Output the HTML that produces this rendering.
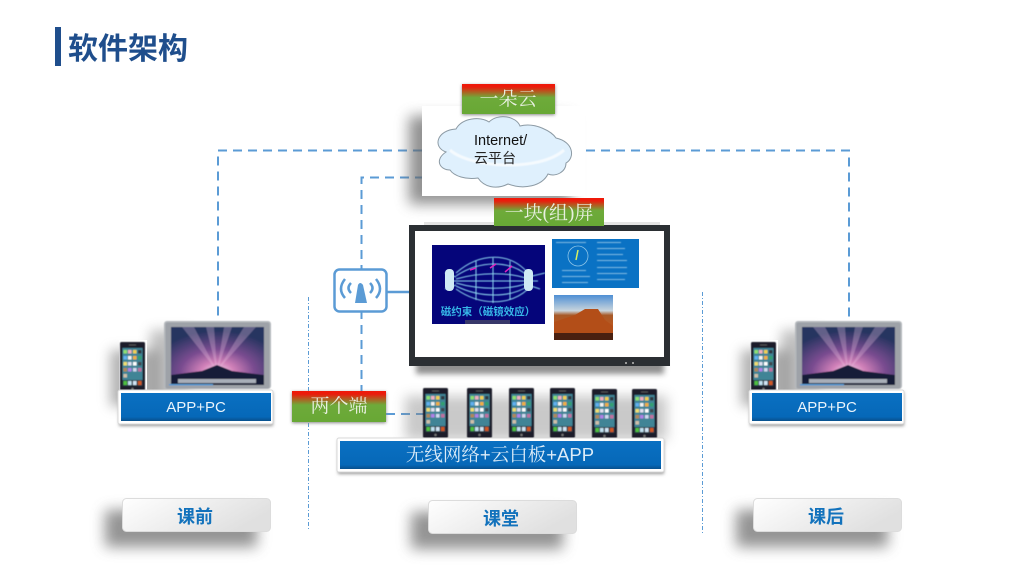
<!DOCTYPE html>
<html><head><meta charset="utf-8"><style>
html,body{margin:0;padding:0;background:#fff;width:1024px;height:576px;overflow:hidden}
svg{display:block}
text{font-family:"Liberation Sans","Noto Sans CJK SC",sans-serif}
.serif{font-family:"Liberation Serif","Noto Serif CJK SC",serif}
.sans{font-family:"Liberation Sans",sans-serif}
</style></head><body>
<svg width="1024" height="576" viewBox="0 0 1024 576" xmlns="http://www.w3.org/2000/svg">
<defs>
<filter id="b6" x="-30%" y="-60%" width="160%" height="220%"><feGaussianBlur stdDeviation="6"/></filter>
<filter id="b7" x="-30%" y="-80%" width="160%" height="260%"><feGaussianBlur stdDeviation="7"/></filter>
<filter id="b3" x="-30%" y="-60%" width="160%" height="220%"><feGaussianBlur stdDeviation="3"/></filter>
<filter id="b2" x="-30%" y="-60%" width="160%" height="220%"><feGaussianBlur stdDeviation="1.500"/></filter>
<filter id="b1" x="-10%" y="-10%" width="120%" height="120%"><feGaussianBlur stdDeviation="0.4"/></filter>
<linearGradient id="tag" x1="0" y1="0" x2="0" y2="1"><stop offset="0" stop-color="#f01808"/><stop offset=".1" stop-color="#ea1c0c"/><stop offset=".45" stop-color="#6eaa3a"/><stop offset="1" stop-color="#68a835"/></linearGradient>
<linearGradient id="btn" x1="0" y1="0" x2="1" y2="0.4"><stop offset="0" stop-color="#ffffff"/><stop offset="1" stop-color="#e0e0e0"/></linearGradient>
<linearGradient id="blue" x1="0" y1="0" x2="0" y2="1"><stop offset="0" stop-color="#0a70c2"/><stop offset=".85" stop-color="#0668b8"/><stop offset="1" stop-color="#08508c"/></linearGradient>
<radialGradient id="wall" cx=".5" cy=".78" r=".72"><stop offset="0" stop-color="#f6dcf0"/><stop offset=".25" stop-color="#d080b8"/><stop offset=".55" stop-color="#7a4c90"/><stop offset="1" stop-color="#263460"/></radialGradient>
<linearGradient id="desert" x1="0" y1="0" x2="0" y2="1"><stop offset="0" stop-color="#4f8fd4"/><stop offset=".35" stop-color="#c8d4dc"/><stop offset=".45" stop-color="#a85a28"/><stop offset=".75" stop-color="#c0561c"/><stop offset="1" stop-color="#3c1c10"/></linearGradient>
<g id="phone" filter="url(#b1)">
<rect x="0" y="0" width="25" height="50" rx="1.5" fill="#1a1e2c"/>
<rect x="2.500" y="6" width="20" height="38" fill="#3f8496"/>
<g>
<rect x="3.500" y="8" width="3.500" height="3.500" fill="#8fe070"/><rect x="8" y="8" width="3.500" height="3.500" fill="#f0b0c0"/><rect x="13" y="8" width="3.500" height="3.500" fill="#f0d050"/><rect x="18" y="8" width="3.500" height="3.500" fill="#303840"/>
<rect x="3.500" y="14" width="3.500" height="3.500" fill="#60b0f0"/><rect x="8" y="14" width="3.500" height="3.500" fill="#f4f4f4"/><rect x="13" y="14" width="3.500" height="3.500" fill="#f0b040"/><rect x="18" y="14" width="3.500" height="3.500" fill="#30a070"/>
<rect x="3.500" y="20" width="3.500" height="3.500" fill="#f0e070"/><rect x="8" y="20" width="3.500" height="3.500" fill="#e0e0f0"/><rect x="13" y="20" width="3.500" height="3.500" fill="#ffffff"/><rect x="18" y="20" width="3.500" height="3.500" fill="#404850"/>
<rect x="3.500" y="26" width="3.500" height="3.500" fill="#b08858"/><rect x="8" y="26" width="3.500" height="3.500" fill="#b080e8"/><rect x="13" y="26" width="3.500" height="3.500" fill="#d0d8f0"/><rect x="18" y="26" width="3.500" height="3.500" fill="#c070a0"/>
<rect x="3.500" y="32" width="3.500" height="3.500" fill="#d0c0a8"/>
</g>
<rect x="2.500" y="38" width="20" height="6" fill="#2a3a44"/>
<rect x="3.500" y="39" width="3.500" height="4" fill="#50c040"/><rect x="8" y="39" width="3.500" height="4" fill="#c0e0f0"/><rect x="13" y="39" width="3.500" height="4" fill="#d0e4f4"/><rect x="18" y="39" width="3.500" height="4" fill="#d05820"/>
<circle cx="12.500" cy="47" r="1.200" fill="#777"/>
<rect x="9" y="2.500" width="7" height="1" fill="#555"/>
</g>
<g id="laptop" filter="url(#b1)">
<rect x="0" y="0" width="107" height="68" rx="3" fill="#b4b8bc"/>
<rect x="1.500" y="1.500" width="104" height="66" rx="2" fill="#9ea2a8"/>
<rect x="7" y="6" width="93" height="58" fill="url(#wall)"/>
<path d="M53 50 L18 6 H30 L53 50 L42 6 H50 L53 50 L60 6 H68 L53 50 L80 6 H92 Z" fill="#f0c8e4" opacity=".3"/>
<path d="M7 54 L38 50 L53 44 L68 50 L100 54 V64 H7 Z" fill="#161a38"/>
<rect x="14" y="58" width="78" height="4" fill="#a8aeb8"/>
<rect x="5" y="63" width="44" height="1.500" fill="#5b9bd5"/>
</g>
</defs>

<!-- title -->
<rect x="55" y="27" width="6" height="39" fill="#1f4e8c"/>
<text x="68" y="59" font-size="30" font-weight="700" fill="#1f4e8c">软件架构</text>

<!-- dashes -->
<g fill="none" stroke="#5b9bd5" stroke-width="2" stroke-dasharray="9 6">
<path d="M422 150.500H218V320"/>
<path d="M424 177.500H361.500V392"/>
<path d="M586 150.500H849V320"/>
<path d="M386 414H424"/>
</g>
<g stroke="#5b9bd5" stroke-width="1" stroke-dasharray="4 2 1 2" fill="none">
<path d="M308.500 297V531"/>
<path d="M702.500 292V534"/>
</g>

<!-- cloud panel -->
<rect x="409" y="116" width="162" height="88" fill="#666" opacity=".72" filter="url(#b7)"/>
<rect x="422" y="106" width="163" height="90" fill="#fff"/>
<path d="M446 152C432 147 437 130 456 129C462 118 480 116 489 122C498 113 516 116 520 126C536 122 552 132 556 138C574 142 575 158 566 163C566 172 556 177 548 174C542 186 524 190 508 184C496 190 484 187 478 178C466 180 454 176 450 170C440 170 434 160 446 152Z" fill="#dff0fd" stroke="#8c9aa4" stroke-width="1"/>
<path d="M450 150C470 168 540 172 564 150" fill="none" stroke="#fff" stroke-width="3" opacity=".7" filter="url(#b1)"/>
<text x="474" y="145" font-size="14.500" fill="#111">Internet/</text>
<text x="474" y="163" font-size="14" fill="#222">云平台</text>

<!-- screen -->
<rect x="424" y="222" width="236" height="6" fill="#e4e4e4"/>
<rect x="416" y="356" width="248" height="18" fill="#555" opacity=".65" filter="url(#b3)"/>
<rect x="409" y="225" width="261" height="141" fill="#2b2f33"/>
<rect x="415" y="231" width="249" height="126" fill="#fff"/>
<circle cx="626" cy="363" r="1" fill="#bbb"/><circle cx="633" cy="363" r="1" fill="#bbb"/>
<rect x="432" y="245" width="113" height="79" fill="#05057a"/>
<g fill="none" stroke="#8fd8f0" stroke-width="1" filter="url(#b1)">
<path d="M445 273L456 277M445 289L456 285M545 273L528 277M540 289L528 285"/>
<path d="M456 273C480 252 510 252 528 273"/><path d="M456 276C480 260 510 260 528 276"/>
<path d="M456 279C480 272 510 272 528 279"/><path d="M448 281H538"/>
<path d="M456 283C480 290 510 290 528 283"/><path d="M456 286C480 298 510 298 528 286"/>
<path d="M456 289C480 306 510 306 528 289"/>
<path d="M476 261V300M493 258V303M510 261V300"/>
</g>
<rect x="445" y="269" width="9" height="22" rx="4" fill="#cfeaf5"/>
<rect x="524" y="269" width="9" height="22" rx="4" fill="#cfeaf5"/>
<text x="488" y="315" font-size="10.500" fill="#36b8e8" text-anchor="middle" font-weight="700">磁约束（磁镜效应）</text>
<rect x="465" y="320" width="45" height="4" fill="#38386a"/>
<path d="M470 270L476 268M490 268L496 264M505 272L512 266" stroke="#e020c0" stroke-width="1.500"/>
<rect x="552" y="239" width="87" height="49" fill="#0a72c4"/>
<g fill="#b8dcf0" opacity=".7" filter="url(#b1)">
<rect x="556" y="242" width="30" height="1"/><rect x="597" y="242" width="24" height="1"/>
<rect x="597" y="248" width="28" height="1"/><rect x="597" y="254" width="26" height="1"/><rect x="597" y="260" width="30" height="1"/>
<rect x="597" y="267" width="30" height="1"/><rect x="597" y="273" width="30" height="1"/><rect x="597" y="279" width="28" height="1"/>
<rect x="562" y="270" width="24" height="1"/><rect x="562" y="276" width="28" height="1"/><rect x="562" y="282" width="26" height="1"/>
</g>
<circle cx="578" cy="256" r="10" fill="none" stroke="#8cc4e8" stroke-width=".8"/>
<path d="M578 250L576 260" stroke="#d8f060" stroke-width="1.500"/>
<rect x="554" y="295" width="59" height="45" fill="url(#desert)"/>
<path d="M554 322L575 315L585 309H598L605 320L613 326V340H554Z" fill="#b34e18"/>
<path d="M554 333H613V340H554Z" fill="#4a2010"/>

<!-- wifi icon -->
<path d="M387 292H409" stroke="#5b9bd5" stroke-width="2.500"/>
<rect x="334.500" y="269.500" width="52" height="42" rx="5" fill="#fff" stroke="#5b9bd5" stroke-width="2.500"/>
<path d="M355 303L358 285Q360 281 363 285L367 303Z" fill="#5b9bd5"/>
<g fill="none" stroke="#5b9bd5" stroke-width="2.500">
<path d="M345 279Q337 289 345 298"/><path d="M351 283Q346 288 351 293"/>
<path d="M376 279Q384 289 376 298"/><path d="M370 283Q375 288 370 293"/>
</g>

<!-- tags -->
<rect x="462" y="85" width="93" height="30" fill="#888" filter="url(#b2)"/>
<rect x="462" y="84" width="93" height="30" fill="url(#tag)"/>
<text x="508" y="105" class="serif" font-size="19" fill="#e8f0e0" text-anchor="middle">一朵云</text>
<rect x="494" y="198" width="110" height="28" fill="url(#tag)"/>
<text x="549" y="219" class="serif" font-size="19" fill="#e8f0e0" text-anchor="middle">一块(组)屏</text>
<rect x="292" y="392" width="94" height="31" fill="#888" filter="url(#b2)"/>
<rect x="292" y="391" width="94" height="31" fill="url(#tag)"/>
<text x="339" y="412" class="serif" font-size="19" fill="#e8f0e0" text-anchor="middle">两个端</text>

<!-- shadows for devices -->
<rect x="110" y="350" width="50" height="56" fill="#777" opacity=".55" filter="url(#b6)"/>
<rect x="150" y="330" width="40" height="70" fill="#777" opacity=".45" filter="url(#b6)"/>
<rect x="741" y="350" width="50" height="56" fill="#777" opacity=".55" filter="url(#b6)"/>
<rect x="781" y="330" width="40" height="70" fill="#777" opacity=".45" filter="url(#b6)"/>
<rect x="405" y="396" width="262" height="44" fill="#888" opacity=".45" filter="url(#b6)"/>

<!-- left devices -->
<use href="#laptop" x="164" y="321"/>
<rect x="119" y="340" width="28" height="52" fill="#fff"/>
<use href="#phone" x="120" y="342"/>
<!-- right devices -->
<use href="#laptop" x="795" y="321"/>
<rect x="750" y="340" width="28" height="52" fill="#fff"/>
<use href="#phone" x="751" y="342"/>
<!-- phones -->
<use href="#phone" x="423" y="388"/>
<use href="#phone" x="467" y="388"/>
<use href="#phone" x="509" y="388"/>
<use href="#phone" x="550" y="388"/>
<use href="#phone" x="592" y="389"/>
<use href="#phone" x="632" y="389"/>

<!-- blue boxes -->
<rect x="119" y="392" width="154" height="34" fill="#999" filter="url(#b2)"/>
<rect x="118" y="390" width="155" height="34" rx="2" fill="#fff" stroke="#d8d8d8"/>
<rect x="121" y="393" width="150" height="28" fill="url(#blue)"/>
<text x="196" y="412" font-size="15" fill="#eaf4fc" text-anchor="middle">APP+PC</text>
<rect x="750" y="392" width="154" height="34" fill="#999" filter="url(#b2)"/>
<rect x="749" y="390" width="155" height="34" rx="2" fill="#fff" stroke="#d8d8d8"/>
<rect x="752" y="393" width="150" height="28" fill="url(#blue)"/>
<text x="827" y="412" font-size="15" fill="#eaf4fc" text-anchor="middle">APP+PC</text>
<rect x="338" y="440" width="326" height="34" fill="#999" filter="url(#b2)"/>
<rect x="337" y="438" width="327" height="34" rx="2" fill="#fff" stroke="#d8d8d8"/>
<rect x="340" y="441" width="321" height="28" fill="url(#blue)"/>
<text x="500" y="461" class="serif" font-size="18.500" fill="#dcecf8" text-anchor="middle">无线网络<tspan class="sans">+</tspan>云白板<tspan class="sans">+APP</tspan></text>

<!-- buttons -->
<rect x="105" y="510" width="152" height="37" fill="#666" opacity=".7" filter="url(#b7)"/>
<rect x="122.500" y="498.500" width="148" height="33" rx="4" fill="url(#btn)" stroke="#dcdcdc"/>
<text x="195" y="523" font-size="18" font-weight="700" fill="#1272bc" text-anchor="middle">课前</text>
<rect x="411" y="512" width="152" height="37" fill="#666" opacity=".7" filter="url(#b7)"/>
<rect x="428.500" y="500.500" width="148" height="33" rx="4" fill="url(#btn)" stroke="#dcdcdc"/>
<text x="501" y="525" font-size="18" font-weight="700" fill="#1272bc" text-anchor="middle">课堂</text>
<rect x="736" y="510" width="152" height="37" fill="#666" opacity=".7" filter="url(#b7)"/>
<rect x="753.500" y="498.500" width="148" height="33" rx="4" fill="url(#btn)" stroke="#dcdcdc"/>
<text x="826" y="523" font-size="18" font-weight="700" fill="#1272bc" text-anchor="middle">课后</text>
</svg>
</body></html>
